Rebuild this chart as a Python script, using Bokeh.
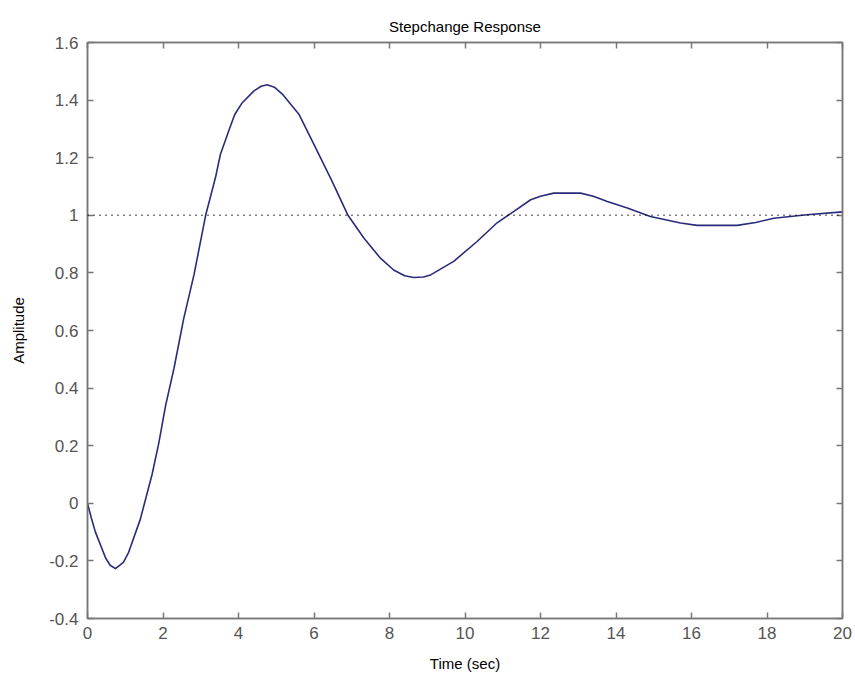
from bokeh.plotting import figure
from bokeh.models import LinearAxis, FixedTicker, Span, ColumnDataSource
from bokeh.embed import file_html
from bokeh.resources import INLINE

# Step response samples (time in seconds, amplitude)
time_sec = [0, 0.10, 0.21, 0.48, 0.60, 0.74, 0.95, 1.09, 1.40, 1.55, 1.71, 1.89,
            2.07, 2.29, 2.55, 2.82, 3.13, 3.39, 3.52, 3.74, 3.90, 4.10, 4.41,
            4.60, 4.76, 4.95, 5.16, 5.60, 6.04, 6.48, 6.90, 7.32, 7.76, 8.11,
            8.40, 8.64, 8.90, 9.09, 9.70, 10.32, 10.85, 11.21, 11.74, 12.00,
            12.35, 13.06, 13.40, 13.77, 14.30, 14.91, 15.71, 16.15, 17.21,
            17.70, 18.18, 19.06, 20.0]
amplitude = [0, -0.05, -0.10, -0.19, -0.215, -0.227, -0.205, -0.17, -0.055,
             0.02, 0.10, 0.21, 0.34, 0.468, 0.642, 0.793, 1.0, 1.131, 1.211,
             1.293, 1.35, 1.391, 1.432, 1.448, 1.453, 1.445, 1.421, 1.351,
             1.235, 1.118, 1.0, 0.921, 0.851, 0.81, 0.79, 0.784, 0.786, 0.793,
             0.84, 0.909, 0.974, 1.006, 1.054, 1.066, 1.077, 1.077, 1.066,
             1.048, 1.025, 0.996, 0.973, 0.965, 0.965, 0.975, 0.99, 1.002,
             1.012]
steady_state = 1.0

x_ticks = [0, 2, 4, 6, 8, 10, 12, 14, 16, 18, 20]
y_ticks = [-0.4, -0.2, 0, 0.2, 0.4, 0.6, 0.8, 1.0, 1.2, 1.4, 1.6]
y_tick_labels = ["-0.4", "-0.2", "0", "0.2", "0.4", "0.6", "0.8", "1", "1.2", "1.4", "1.6"]

FONT = "Liberation Sans"
AXIS_GRAY = "#777777"
LABEL_GRAY = "#555555"

p = figure(width=855, height=683, x_range=(0, 20), y_range=(-0.4, 1.6),
           output_backend="svg", toolbar_location=None,
           min_border_left=87, min_border_right=13,
           min_border_top=42, min_border_bottom=65,
           title="Stepchange Response")
p.background_fill_color = "white"
p.border_fill_color = "white"
p.grid.visible = False
p.outline_line_color = AXIS_GRAY
p.outline_line_width = 1.5

p.title.align = "center"
p.title.vertical_align = "top"
p.title.text_font = FONT
p.title.text_font_size = "15px"
p.title.text_font_style = "normal"
p.title.text_color = "black"
p.title.standoff = 12

src = ColumnDataSource(data=dict(t=time_sec, y=amplitude))
p.line("t", "y", source=src, line_color="#2b2b7b", line_width=1.6,
       line_join="round")

p.add_layout(Span(location=steady_state, dimension="width", line_color="black",
                  line_dash="1 5", line_width=1.6))


def style_axis(ax, show_labels):
    ax.axis_line_color = AXIS_GRAY
    ax.axis_line_width = 1.5
    ax.major_tick_line_color = AXIS_GRAY
    ax.major_tick_line_width = 1.5
    ax.major_tick_in = 6
    ax.major_tick_out = 0
    ax.minor_tick_line_color = None
    ax.major_label_text_font = FONT
    ax.major_label_text_color = LABEL_GRAY
    ax.major_label_text_font_size = "17px" if show_labels else "0px"
    ax.axis_label_text_font = FONT
    ax.axis_label_text_font_size = "15px"
    ax.axis_label_text_font_style = "normal"
    ax.axis_label_text_color = "black"


xa = p.xaxis[0]
xa.ticker = FixedTicker(ticks=x_ticks)
xa.axis_label = "Time (sec)"
style_axis(xa, True)
xa.major_label_standoff = 8
xa.axis_label_standoff = 13

ya = p.yaxis[0]
ya.ticker = FixedTicker(ticks=y_ticks)
ya.major_label_overrides = {v: s for v, s in zip(y_ticks, y_tick_labels)}
ya.axis_label = "Amplitude"
style_axis(ya, True)
ya.major_label_standoff = 9
ya.axis_label_standoff = 19

# box edges: tick marks only
top = LinearAxis(ticker=FixedTicker(ticks=x_ticks))
style_axis(top, False)
top.major_label_standoff = 0
p.add_layout(top, "above")

right = LinearAxis(ticker=FixedTicker(ticks=y_ticks))
style_axis(right, False)
right.major_label_standoff = 0
p.add_layout(right, "right")

open("out.html", "w").write(file_html(p, INLINE))
